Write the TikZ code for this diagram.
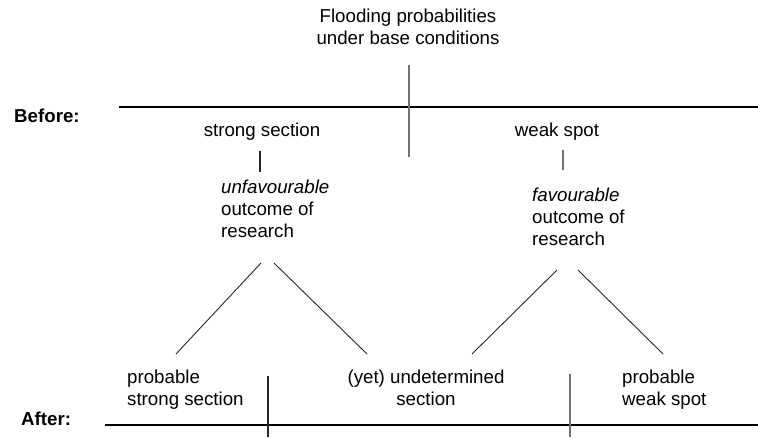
\documentclass[tikz,border=0pt]{standalone}
\usepackage{fontspec}
\setmainfont{Liberation Sans}
\begin{document}
\begin{tikzpicture}[x=1pt,y=-1pt,
  txt/.style={inner sep=0pt,font=\fontsize{18.7}{22}\selectfont},
  lbl/.style={txt,font=\fontsize{18.7}{22}\selectfont\bfseries},
  rule/.style={line width=1.2pt,black},
  stem/.style={line width=1.3pt,black!55},
  stemdark/.style={line width=1.2pt,black!85},
  branch/.style={line width=0.9pt,black!85}]
\useasboundingbox (0,0) rectangle (758,437);
% texts (base anchor of a multi-line node lies on its last line)
\node[txt,anchor=base,align=center] (title) at (408,44) {Flooding probabilities\\under base conditions};
\node[lbl,anchor=base west] (before) at (14,122) {Before:};
\node[lbl,anchor=base west] (after) at (21,425) {After:};
\node[txt,anchor=base] (strong) at (262,136) {strong section};
\node[txt,anchor=base] (weak) at (557,136) {weak spot};
\node[txt,anchor=base west,align=left] (unfav) at (221,237) {\textit{unfavourable}\\outcome of\\research};
\node[txt,anchor=base west,align=left] (fav) at (532,245) {\textit{favourable}\\outcome of\\research};
\node[txt,anchor=base west,align=left] (pstrong) at (127,405) {probable\\strong section};
\node[txt,anchor=base,align=center] (undet) at (426,405) {(yet) undetermined\\section};
\node[txt,anchor=base west,align=left] (pweak) at (622,405) {probable\\weak spot};
% end points
\coordinate (bL) at (119,107); \coordinate (bR) at (758,107);
\coordinate (aL) at (105,425); \coordinate (aR) at (758,425);
\coordinate (cT) at (409,65); \coordinate (cB) at (409,157);
\coordinate (sT) at (260,151); \coordinate (sB) at (260,172);
\coordinate (wT) at (563,150); \coordinate (wB) at (563,170);
\coordinate (l1T) at (261,263); \coordinate (l1B) at (176,354);
\coordinate (l2T) at (274,263); \coordinate (l2B) at (367,354);
\coordinate (r1T) at (557,270); \coordinate (r1B) at (472,354);
\coordinate (r2T) at (578,270); \coordinate (r2B) at (663,354);
\coordinate (d1T) at (268,376); \coordinate (d1B) at (268,437);
\coordinate (d2T) at (570,374); \coordinate (d2B) at (570,437);
% lines
\draw[rule] (bL) -- (bR);
\draw[rule] (aL) -- (aR);
\draw[stem] (cT) -- (cB);
\draw[stemdark] (sT) -- (sB);
\draw[stem] (wT) -- (wB);
\draw[branch] (l1T) -- (l1B);
\draw[branch] (l2T) -- (l2B);
\draw[branch] (r1T) -- (r1B);
\draw[branch] (r2T) -- (r2B);
\draw[stemdark] (d1T) -- (d1B);
\draw[stem] (d2T) -- (d2B);
\end{tikzpicture}
\end{document}
